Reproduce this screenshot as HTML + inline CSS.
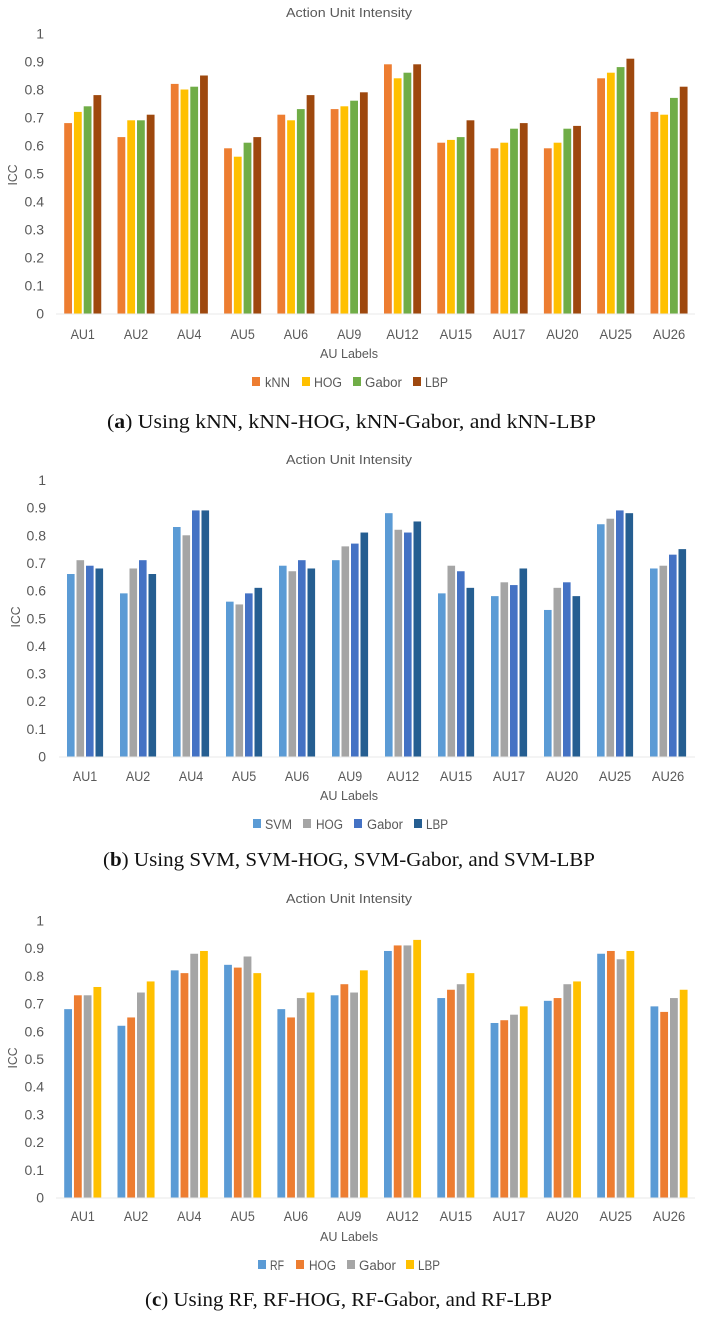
<!DOCTYPE html>
<html lang="en">
<head>
<meta charset="utf-8">
<title>Action Unit Intensity charts</title>
<style>
html,body{margin:0;padding:0;background:#fff;}
svg{display:block;}
text{font-family:"Liberation Sans",sans-serif;fill:#595959;}
.caption{font-family:"Liberation Serif",serif;fill:#111;font-size:20px;}
</style>
</head>
<body>
<svg id="figure" xmlns="http://www.w3.org/2000/svg" width="702" height="1317" viewBox="0 0 702 1317"></svg>
<script>
const categories = ["AU1","AU2","AU4","AU5","AU6","AU9","AU12","AU15","AU17","AU20","AU25","AU26"];
const yTickLabels = ["0","0.1","0.2","0.3","0.4","0.5","0.6","0.7","0.8","0.9","1"];
const yTickValues = [0,0.1,0.2,0.3,0.4,0.5,0.6,0.7,0.8,0.9,1];

const knnSeriesNames = ["kNN","HOG","Gabor","LBP"];
const knnValues = [0.68,0.63,0.82,0.59,0.71,0.73,0.89,0.61,0.59,0.59,0.84,0.72];
const knnHogValues = [0.72,0.69,0.80,0.56,0.69,0.74,0.84,0.62,0.61,0.61,0.86,0.71];
const knnGaborValues = [0.74,0.69,0.81,0.61,0.73,0.76,0.86,0.63,0.66,0.66,0.88,0.77];
const knnLbpValues = [0.78,0.71,0.85,0.63,0.78,0.79,0.89,0.69,0.68,0.67,0.91,0.81];

const svmSeriesNames = ["SVM","HOG","Gabor","LBP"];
const svmValues = [0.66,0.59,0.83,0.56,0.69,0.71,0.88,0.59,0.58,0.53,0.84,0.68];
const svmHogValues = [0.71,0.68,0.80,0.55,0.67,0.76,0.82,0.69,0.63,0.61,0.86,0.69];
const svmGaborValues = [0.69,0.71,0.89,0.59,0.71,0.77,0.81,0.67,0.62,0.63,0.89,0.73];
const svmLbpValues = [0.68,0.66,0.89,0.61,0.68,0.81,0.85,0.61,0.68,0.58,0.88,0.75];

const rfSeriesNames = ["RF","HOG","Gabor","LBP"];
const rfValues = [0.68,0.62,0.82,0.84,0.68,0.73,0.89,0.72,0.63,0.71,0.88,0.69];
const rfHogValues = [0.73,0.65,0.81,0.83,0.65,0.77,0.91,0.75,0.64,0.72,0.89,0.67];
const rfGaborValues = [0.73,0.74,0.88,0.87,0.72,0.74,0.91,0.77,0.66,0.77,0.86,0.72];
const rfLbpValues = [0.76,0.78,0.89,0.81,0.74,0.82,0.93,0.81,0.69,0.78,0.89,0.75];

const NS = "http://www.w3.org/2000/svg";
const fig = document.getElementById("figure");

function make(tag, attrs, parent, content) {
  const el = document.createElementNS(NS, tag);
  for (const k in attrs) el.setAttribute(k, attrs[k]);
  if (content !== undefined) el.textContent = content;
  parent.appendChild(el);
  return el;
}

function drawPanel(p) {
  const g = make("g", {}, fig);
  
  

  const yScale = v => p.y0 - v * p.yLen;
  const xScale = (c, s) => p.x0 + c * p.groupStep + s * p.barPitch;

  const title = make("text", {x: 349, y: p.titleY, "text-anchor": "middle", "font-size": 13, textLength: 126, lengthAdjust: "spacingAndGlyphs"}, g, "Action Unit Intensity");
  
  

  yTickValues.forEach((v, i) => {
    const tick = make("text", {x: p.tickX, y: yScale(v) + 5, "text-anchor": "end", "font-size": 14}, g, yTickLabels[i]);
    
    
  });

  const axis = make("line", {x1: p.axisX1, x2: 695, y1: p.y0 + 0.5, y2: p.y0 + 0.5, stroke: "#e8e8e8", "stroke-width": 1}, g);
  
  

  p.series.forEach((values, s) => {
    values.forEach((v, c) => {
      const bar = make("rect", {x: xScale(c, s), y: yScale(v), width: p.barW, height: p.y0 - yScale(v), fill: p.colors[s]}, g);
      
      
    });
  });

  categories.forEach((cat, c) => {
    const cx = xScale(c, 0) + (p.barPitch * 3 + p.barW) / 2;
    const lab = make("text", {x: cx, y: p.catY, "text-anchor": "middle", "font-size": 13.5, textLength: cat.length * 8.1, lengthAdjust: "spacingAndGlyphs"}, g, cat);
    
    
  });

  const yt = make("text", {x: 0, y: 0, transform: "translate(" + p.yTitleX + "," + p.yTitleY + ") rotate(-90)", "text-anchor": "middle", "font-size": 13, textLength: 21, lengthAdjust: "spacingAndGlyphs"}, g, "ICC");
  
  

  const xt = make("text", {x: 349, y: p.xTitleY, "text-anchor": "middle", "font-size": 13, textLength: 58, lengthAdjust: "spacingAndGlyphs"}, g, "AU Labels");
  
  

  p.names.forEach((name, i) => {
    const sw = make("rect", {x: p.legendSwatch[i], y: p.legendY - 5, width: 8, height: 9, fill: p.colors[i]}, g);
    
    
    const t = make("text", {x: p.legendText[i], y: p.legendY + 5, "font-size": 13.5, textLength: p.legendLen[i], lengthAdjust: "spacingAndGlyphs"}, g, name);
    
    
  });

  const cap = make("text", {class: "caption", x: p.capX, y: p.capY, textLength: p.capLen, lengthAdjust: "spacingAndGlyphs"}, g);
  
  
  make("tspan", {}, cap, "(");
  make("tspan", {"font-weight": "bold"}, cap, p.capLetter);
  make("tspan", {}, cap, ") " + p.capText);
}

drawPanel({
  series: [knnValues, knnHogValues, knnGaborValues, knnLbpValues],
  names: knnSeriesNames,
  colors: ["#ED7D31","#FFC000","#70AD47","#9E480E"],
  x0: 64.2, groupStep: 53.3, barPitch: 9.75, barW: 7.8,
  y0: 313.5, yLen: 280, tickX: 44, axisX1: 56,
  titleY: 17, catY: 339, yTitleX: 17, yTitleY: 175, xTitleY: 358,
  legendY: 382,
  legendSwatch: [252,302,353,413], legendText: [265,314,365,425], legendLen: [25,28,37,23],
  capX: 107, capY: 428, capLen: 489, capLetter: "a",
  capText: "Using kNN, kNN-HOG, kNN-Gabor, and kNN-LBP"
});

drawPanel({
  series: [svmValues, svmHogValues, svmGaborValues, svmLbpValues],
  names: svmSeriesNames,
  colors: ["#5B9BD5","#A5A5A5","#4472C4","#255E91"],
  x0: 67, groupStep: 53, barPitch: 9.5, barW: 7.6,
  y0: 756.5, yLen: 276.5, tickX: 46, axisX1: 59,
  titleY: 464, catY: 781, yTitleX: 20, yTitleY: 617, xTitleY: 800,
  legendY: 824,
  legendSwatch: [253,303,354,414], legendText: [265,316,367,426], legendLen: [27,27,36,22],
  capX: 103, capY: 866, capLen: 492, capLetter: "b",
  capText: "Using SVM, SVM-HOG, SVM-Gabor, and SVM-LBP"
});

drawPanel({
  series: [rfValues, rfHogValues, rfGaborValues, rfLbpValues],
  names: rfSeriesNames,
  colors: ["#5B9BD5","#ED7D31","#A5A5A5","#FFC000"],
  x0: 64.2, groupStep: 53.3, barPitch: 9.75, barW: 7.8,
  y0: 1197.5, yLen: 277, tickX: 44, axisX1: 56,
  titleY: 903, catY: 1221, yTitleX: 17, yTitleY: 1058, xTitleY: 1241,
  legendY: 1265,
  legendSwatch: [258,296,347,406], legendText: [270,309,359,418], legendLen: [14,27,37,22],
  capX: 145, capY: 1306, capLen: 407, capLetter: "c",
  capText: "Using RF, RF-HOG, RF-Gabor, and RF-LBP"
});
</script>
</body>
</html>
